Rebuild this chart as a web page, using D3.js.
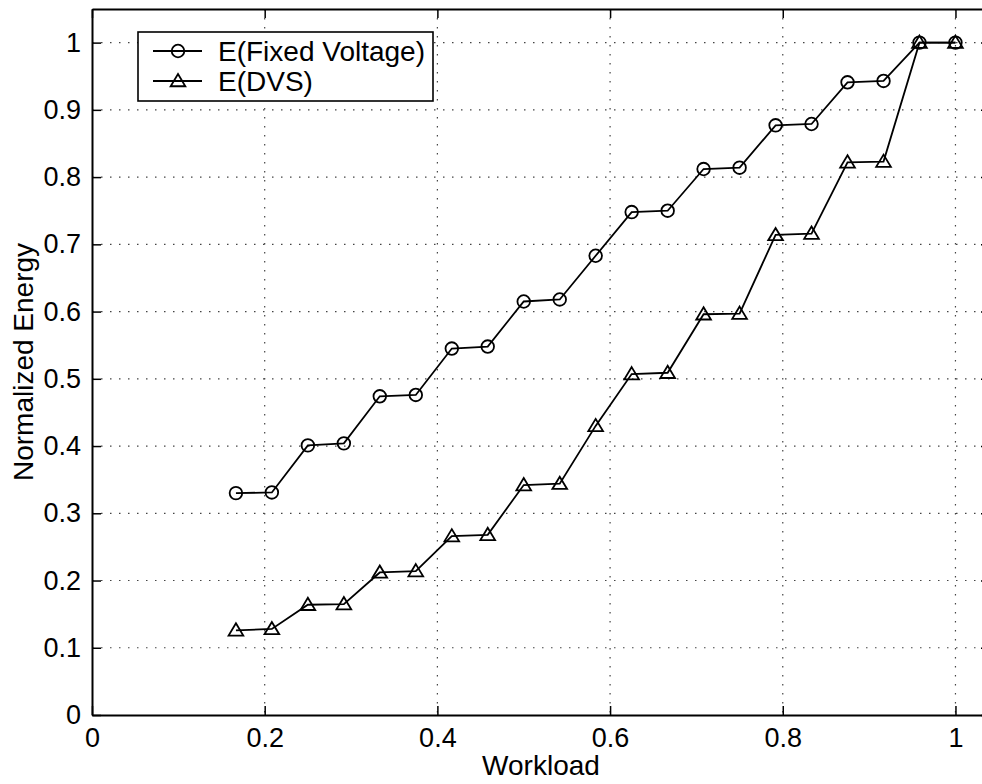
<!DOCTYPE html>
<html>
<head>
<meta charset="utf-8">
<script src="https://cdn.jsdelivr.net/npm/d3@7"></script>
<style>
  body { margin: 0; background: #fff; }
  svg { display: block; font-family: "Liberation Sans", Arial, Helvetica, sans-serif; }
</style>
</head>
<body>
<svg id="chart"></svg>
<script>
// workload values (x) shared by both series
const workload = [0.1667, 0.2083, 0.25, 0.2917, 0.3333, 0.375, 0.4167, 0.4583, 0.5, 0.5417,
  0.5833, 0.625, 0.6667, 0.7083, 0.75, 0.7917, 0.8333, 0.875, 0.9167, 0.9583, 1.0];

// E(Fixed Voltage) - circles
const eFixed = [0.330, 0.331, 0.401, 0.404, 0.474, 0.476, 0.545, 0.548, 0.615, 0.618,
  0.683, 0.748, 0.750, 0.812, 0.814, 0.877, 0.879, 0.941, 0.943, 1.0, 1.0];

// E(DVS) - triangles
const eDvs = [0.126, 0.128, 0.164, 0.165, 0.212, 0.214, 0.266, 0.268, 0.342, 0.344,
  0.430, 0.507, 0.509, 0.596, 0.597, 0.714, 0.716, 0.822, 0.823, 1.0, 1.0];

const seriesNames = ['E(Fixed Voltage)', 'E(DVS)'];

const xTicks = [0, 0.2, 0.4, 0.6, 0.8, 1];
const xTickLabels = ['0', '0.2', '0.4', '0.6', '0.8', '1'];
const yTicks = [0, 0.1, 0.2, 0.3, 0.4, 0.5, 0.6, 0.7, 0.8, 0.9, 1];
const yTickLabels = ['0', '0.1', '0.2', '0.3', '0.4', '0.5', '0.6', '0.7', '0.8', '0.9', '1'];

const margin = { top: 9, right: 0, bottom: 69, left: 92 },
  totalW = 982,
  totalH = 784,
  width = 898,   // axis runs past the right edge of the picture (xlim 0..1.04)
  height = totalH - margin.top - margin.bottom;

const svgRoot = d3.select('#chart').attr('width', totalW).attr('height', totalH);
const svg = svgRoot.append('g')
  .attr('transform', 'translate(' + margin.left + ',' + margin.top + ')');

const x = d3.scaleLinear().domain([0, 1.04]).range([0, width]);
const y = d3.scaleLinear().domain([0, 1.05]).range([height, 0]);

// dotted grid
svg.append('g').selectAll('line')
  .data(xTicks.slice(1))
  .enter().append('line')
  .attr('x1', d => x(d)).attr('x2', d => x(d))
  .attr('y1', 0).attr('y2', height)
  .attr('stroke', '#444').attr('stroke-width', 1.2)
  .attr('stroke-dasharray', '1.5 7.5');

svg.append('g').selectAll('line')
  .data(yTicks.slice(1))
  .enter().append('line')
  .attr('x1', 0).attr('x2', width)
  .attr('y1', d => y(d)).attr('y2', d => y(d))
  .attr('stroke', '#444').attr('stroke-width', 1.2)
  .attr('stroke-dasharray', '1.5 7.5');

// axes, ticks pointing inwards
const xAxis = svg.append('g')
  .attr('transform', 'translate(0,' + height + ')')
  .call(d3.axisBottom(x).tickValues(xTicks)
    .tickFormat((d, i) => xTickLabels[i])
    .tickSizeInner(-9).tickSizeOuter(0).tickPadding(13));

const yAxis = svg.append('g')
  .call(d3.axisLeft(y).tickValues(yTicks)
    .tickFormat((d, i) => yTickLabels[i])
    .tickSizeInner(-9).tickSizeOuter(0).tickPadding(11));

svg.append('g')
  .call(d3.axisTop(x).tickValues(xTicks).tickFormat('')
    .tickSizeInner(-9).tickSizeOuter(0));

svg.append('g')
  .attr('transform', 'translate(' + width + ',0)')
  .call(d3.axisRight(y).tickValues(yTicks).tickFormat('')
    .tickSizeInner(-9).tickSizeOuter(0));

svg.selectAll('.domain').attr('stroke', '#000').attr('stroke-width', 2);
svg.selectAll('.tick line').attr('stroke', '#000').attr('stroke-width', 1.5);
svg.selectAll('.tick text')
  .attr('fill', '#000')
  .style('font-size', '27px')
  .style('font-family', '"Liberation Sans", Arial, Helvetica, sans-serif');

// axis labels
svg.append('text')
  .attr('x', width / 2)
  .attr('y', height + 60)
  .attr('text-anchor', 'middle')
  .style('font-size', '28px')
  .text('Workload');

svg.append('text')
  .attr('transform', 'translate(' + (33 - margin.left) + ',' + height / 2 + ') rotate(-90)')
  .attr('text-anchor', 'middle')
  .style('font-size', '28px')
  .text('Normalized Energy');

// series lines
const line = d3.line()
  .x((d, i) => x(workload[i]))
  .y(d => y(d))
  .curve(d3.curveLinear);

[eFixed, eDvs].forEach(function (vals) {
  svg.append('path')
    .datum(vals)
    .attr('fill', 'none')
    .attr('stroke', '#000')
    .attr('stroke-width', 1.8)
    .attr('d', line);
});

const triangle = function (cx, cy, s) {
  return 'M' + cx + ',' + (cy - s) +
    'L' + (cx + s * 1.05) + ',' + (cy + s * 0.75) +
    'L' + (cx - s * 1.05) + ',' + (cy + s * 0.75) + 'Z';
};

// markers
svg.append('g').selectAll('circle')
  .data(eFixed)
  .enter().append('circle')
  .attr('cx', (d, i) => x(workload[i]))
  .attr('cy', d => y(d))
  .attr('r', 6.3)
  .attr('fill', 'none')
  .attr('stroke', '#000')
  .attr('stroke-width', 1.8);

svg.append('g').selectAll('path')
  .data(eDvs)
  .enter().append('path')
  .attr('d', (d, i) => triangle(x(workload[i]), y(d), 7))
  .attr('fill', 'none')
  .attr('stroke', '#000')
  .attr('stroke-width', 1.8);

// legend
const legend = svgRoot.append('g');
legend.append('rect')
  .attr('x', 138).attr('y', 32)
  .attr('width', 295).attr('height', 69)
  .attr('fill', '#fff')
  .attr('stroke', '#000')
  .attr('stroke-width', 1.6);

seriesNames.forEach(function (name, i) {
  const ly = 51 + i * 30;
  legend.append('line')
    .attr('x1', 153).attr('x2', 202)
    .attr('y1', ly).attr('y2', ly)
    .attr('stroke', '#000').attr('stroke-width', 1.8);
  if (i === 0) {
    legend.append('circle')
      .attr('cx', 178).attr('cy', ly).attr('r', 6.3)
      .attr('fill', 'none').attr('stroke', '#000').attr('stroke-width', 1.8);
  } else {
    legend.append('path')
      .attr('d', triangle(178, ly, 7))
      .attr('fill', 'none').attr('stroke', '#000').attr('stroke-width', 1.8);
  }
  legend.append('text')
    .attr('x', 218)
    .attr('y', ly + 10)
    .style('font-size', '28px')
    .text(name);
});
</script>
</body>
</html>
